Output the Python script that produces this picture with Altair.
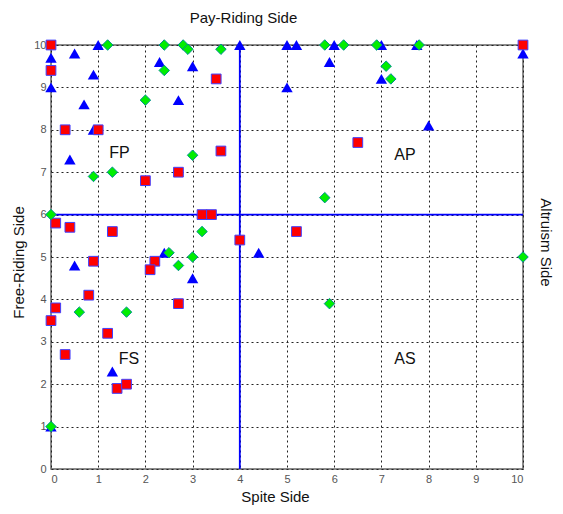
import altair as alt
import pandas as pd

# Red squares
red_x = [0, 0, 0.3, 1.0, 2.0, 2.7, 3.5, 3.6, 6.5, 10, 0.1, 0.4, 1.3, 3.2, 3.4, 2.2, 2.1, 0.9, 0.8, 2.7, 0.1, 0, 4.0, 5.2, 1.2, 0.3, 1.4, 1.6]
red_y = [10, 9.4, 8.0, 8.0, 6.8, 7.0, 9.2, 7.5, 7.7, 10, 5.8, 5.7, 5.6, 6.0, 6.0, 4.9, 4.7, 4.9, 4.1, 3.9, 3.8, 3.5, 5.4, 5.6, 3.2, 2.7, 1.9, 2.0]

# Blue triangles
blue_x = [0, 0.5, 1.0, 2.3, 3.0, 0.9, 0, 0.7, 2.7, 0.9, 0.4, 4.0, 5.0, 5.2, 6.0, 5.9, 5.0, 7.0, 7.0, 7.75, 10, 8.0, 2.4, 3.0, 0.5, 4.4, 1.3, 0]
blue_y = [9.7, 9.8, 10, 9.6, 9.5, 9.3, 9.0, 8.6, 8.7, 8.0, 7.3, 10, 10, 10, 10, 9.6, 9.0, 10, 9.2, 10, 9.8, 8.1, 5.1, 4.5, 4.8, 5.1, 2.3, 1.0]

# Green diamonds
green_x = [1.2, 2.4, 2.8, 2.9, 2.4, 3.6, 5.8, 6.2, 6.9, 7.8, 7.1, 7.2, 2.0, 3.0, 0.9, 1.3, 0, 3.2, 2.5, 2.7, 3.0, 0.6, 1.6, 5.8, 5.9, 10, 0]
green_y = [10, 10, 10, 9.9, 9.4, 9.9, 10, 10, 10, 10, 9.5, 9.2, 8.7, 7.4, 6.9, 7.0, 6.0, 5.6, 5.1, 4.8, 5.0, 3.7, 3.7, 6.4, 3.9, 5.0, 1.0]

# Region labels
region_text = ["FP", "AP", "FS", "AS"]
region_x = [1.45, 7.5, 1.65, 7.5]
region_y = [7.45, 7.4, 2.6, 2.6]

# Threshold lines
vline_x = [4]
hline_y = [6]

ticks = list(range(0, 11))
FONT = "Liberation Sans"

red_df = pd.DataFrame({"x": red_x, "y": red_y})
blue_df = pd.DataFrame({"x": blue_x, "y": blue_y})
green_df = pd.DataFrame({"x": green_x, "y": green_y})
reg_df = pd.DataFrame({"t": region_text, "x": region_x, "y": region_y})
v_df = pd.DataFrame({"x": vline_x})
h_df = pd.DataFrame({"y": hline_y})

xs = alt.Scale(domain=[0, 10], nice=False, zero=False)
ys = alt.Scale(domain=[0, 10], nice=False, zero=False)

grid_x_axis = alt.Axis(values=ticks, grid=True, gridColor="#222", gridDash=[2, 3], gridWidth=1,
                       domain=False, ticks=False, labelFont=FONT, labelFontSize=11, labelColor="#555",
                       labelPadding=4, title="Spite Side", titleFont=FONT, titleFontSize=15,
                       titleFontWeight="normal", titleColor="#111", titleX=224, titleY=27,
                       titleAlign="center", titleBaseline="middle", orient="bottom")
grid_y_axis = alt.Axis(values=ticks, grid=True, gridColor="#222", gridDash=[2, 3], gridWidth=1,
                       domain=False, ticks=False, labelFont=FONT, labelFontSize=11, labelColor="#555",
                       labelPadding=5, title="Free-Riding Side", titleFont=FONT, titleFontSize=15,
                       titleFontWeight="normal", titleColor="#111", titleX=-33, titleY=217,
                       titleAlign="center", titleBaseline="middle", orient="left")

blue = alt.Chart(blue_df).mark_point(shape="triangle-up", filled=True, size=130, color="#0000ff",
                                     opacity=1).encode(
    x=alt.X("x:Q", scale=xs, axis=grid_x_axis),
    y=alt.Y("y:Q", scale=ys, axis=grid_y_axis),
)
red = alt.Chart(red_df).mark_point(shape="square", filled=True, size=95, fill="#ff0000",
                                   stroke="#4040ff", strokeWidth=1, opacity=1).encode(
    x=alt.X("x:Q", scale=xs, axis=None),
    y=alt.Y("y:Q", scale=ys, axis=None),
)
green = alt.Chart(green_df).mark_point(shape="diamond", filled=True, size=110, fill="#00ee00",
                                       stroke="#009090", strokeWidth=1, opacity=1).encode(
    x=alt.X("x:Q", scale=xs, axis=None),
    y=alt.Y("y:Q", scale=ys, axis=None),
)
vrule = alt.Chart(v_df).mark_rule(color="#0000ff", strokeWidth=1.8).encode(
    x=alt.X("x:Q", scale=xs,
            axis=alt.Axis(orient="top", labels=False, ticks=False, domain=False, grid=False,
                          title="Pay-Riding Side", titleFont=FONT, titleFontSize=15,
                          titleFontWeight="normal", titleColor="#111", titleX=192, titleY=-28,
                          titleAlign="center", titleBaseline="middle")),
)
hrule = alt.Chart(h_df).mark_rule(color="#0000ff", strokeWidth=1.8).encode(
    y=alt.Y("y:Q", scale=ys,
            axis=alt.Axis(orient="right", labels=False, ticks=False, domain=False, grid=False,
                          title="Altruism Side", titleFont=FONT, titleFontSize=15,
                          titleFontWeight="normal", titleColor="#111", titleX=22, titleY=197,
                          titleAlign="center", titleBaseline="middle", titleAngle=90)),
)
labels = alt.Chart(reg_df).mark_text(font=FONT, fontSize=16, color="#111").encode(
    x=alt.X("x:Q", scale=xs, axis=None),
    y=alt.Y("y:Q", scale=ys, axis=None),
    text="t:N",
)

chart = alt.layer(blue, vrule, hrule, labels, red, green).resolve_axis(
    x="independent", y="independent"
).properties(
    width=472, height=424, autosize="none",
    padding={"left": 43, "top": 37, "right": 32, "bottom": 37},
    background="white",
).configure_view(stroke="#666", strokeWidth=1.5)

chart.save("out.html", embed_options={"renderer": "svg", "actions": False})
